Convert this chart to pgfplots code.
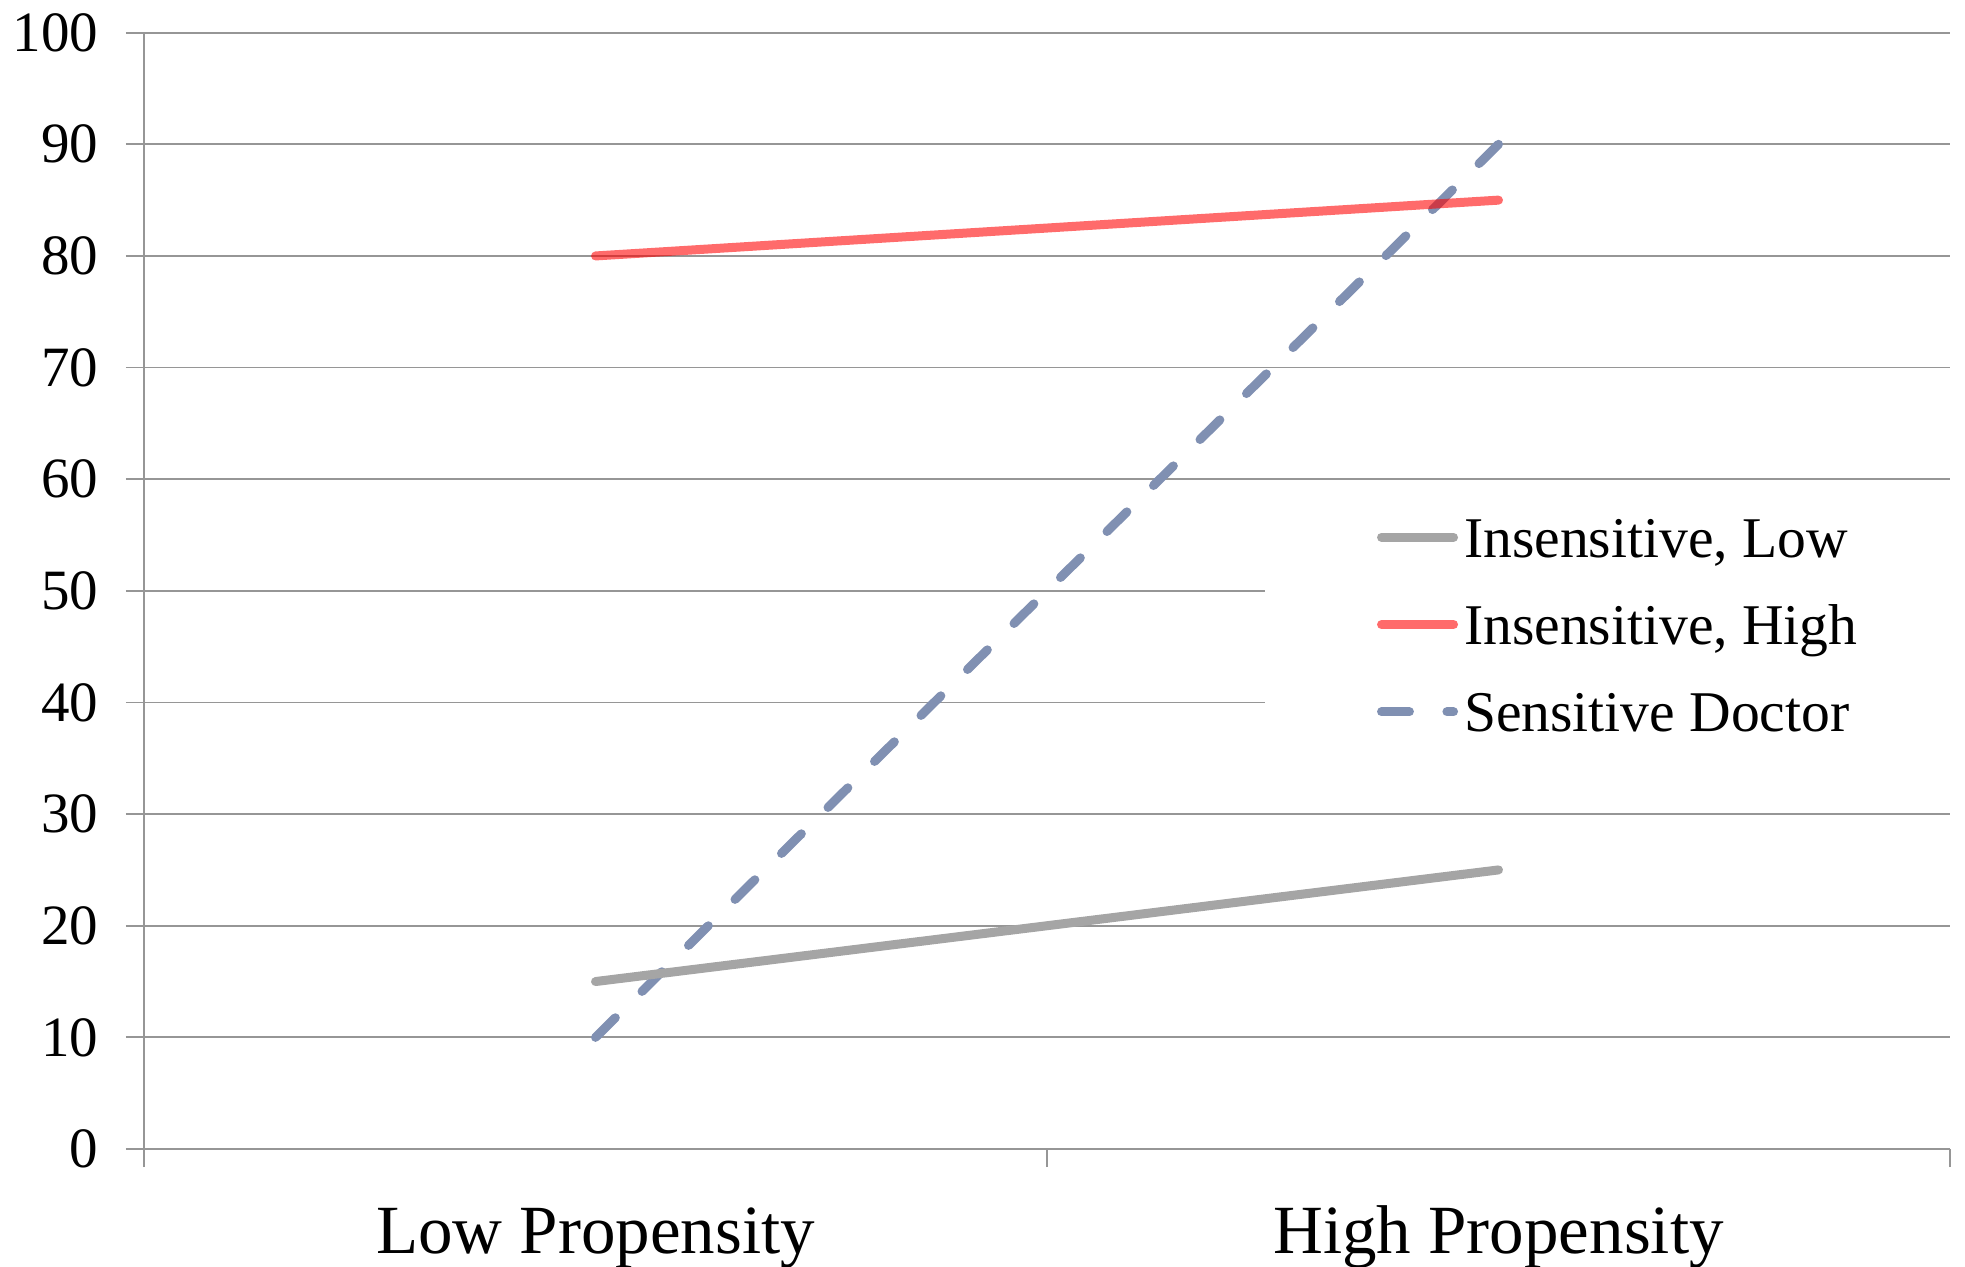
\documentclass[border=0pt]{standalone}
\usepackage{fontspec}
\setmainfont{Liberation Serif}
\usepackage{pgfplots}
\pgfplotsset{compat=1.18}
\definecolor{gridgray}{RGB}{150,150,150}
\definecolor{lowgray}{RGB}{165,165,165}
\definecolor{sensblue}{RGB}{128,144,178}
\begin{document}
\begin{tikzpicture}
\useasboundingbox (-48pt,-39.3pt) rectangle (607pt,383pt);
\begin{axis}[
  at={(0,0)}, anchor=south west,
  scale only axis, width=602pt, height=372.1pt,
  xmin=0, xmax=2, ymin=0, ymax=100,
  xtick={0,1,2}, xticklabels={},
  extra x ticks={0.5,1.5},
  extra x tick labels={Low Propensity, High Propensity},
  extra x tick style={major tick length=0pt},
  xticklabel style={font=\fontsize{23}{27}\selectfont, anchor=base, inner sep=0pt, yshift=-34.7pt},
  ytick={0,10,...,100},
  yticklabel style={font=\fontsize{19}{23}\selectfont, anchor=east, inner sep=0pt, xshift=-9pt},
  /pgf/number format/assume math mode=true,
  axis x line*=bottom, axis y line*=left,
  axis line style={draw=gridgray, line width=0.6pt, -},
  ymajorgrids, major grid style={gridgray, line width=0.6pt},
  tick style={gridgray, line width=0.6pt},
  tick align=outside, major tick length=6pt,
  legend style={at={(rel axis cs:0.6824,0.5738)}, anchor=north west, draw=none, fill=none,
    inner sep=0pt, row sep=10.3pt, column sep=2pt, font=\fontsize{19.2}{23}\selectfont,
    nodes={inner sep=0pt, text height=16pt, text depth=2.8pt}},
  legend cell align=left,
  legend image code/.code={\draw[#1] (0pt,0pt) -- (24pt,0pt);},
]
\fill[white] (rel axis cs:0.6207,0.58) rectangle (rel axis cs:1,0.33);
\addplot[sensblue, line width=3pt, line cap=round, dash pattern=on 9.3pt off 12.5pt, forget plot] coordinates {(0.5,10) (1.5,90)};
\addplot[lowgray, line width=3pt, line cap=round, forget plot] coordinates {(0.5,15) (1.5,25)};
\addplot[red, opacity=0.58, line width=3pt, line cap=round, forget plot] coordinates {(0.5,80) (1.5,85)};
\addlegendimage{lowgray, line width=3pt, line cap=round}
\addlegendentry{Insensitive, Low}
\addlegendimage{red, opacity=0.58, line width=3pt, line cap=round}
\addlegendentry{Insensitive, High}
\addlegendimage{sensblue, line width=3pt, line cap=round, dash pattern=on 9.3pt off 12.5pt}
\addlegendentry{Sensitive Doctor}
\end{axis}
\end{tikzpicture}
\end{document}
